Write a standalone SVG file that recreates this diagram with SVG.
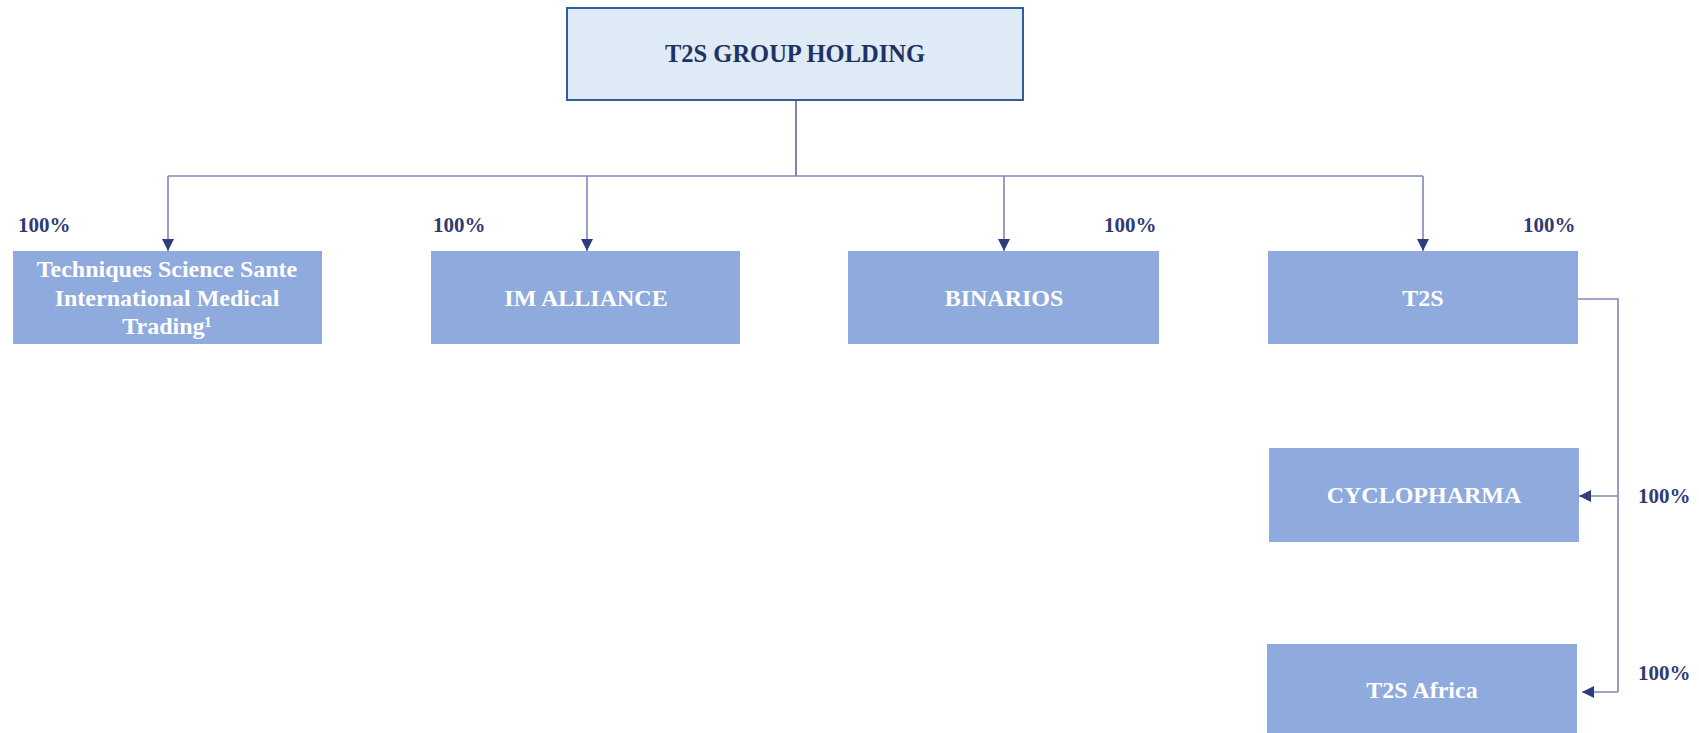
<svg xmlns="http://www.w3.org/2000/svg" width="1699" height="733" viewBox="0 0 1699 733">
<defs>
<style>
.box{fill:#8FAADC;}
.bt{font-family:"Liberation Serif",serif;font-weight:bold;font-size:24px;fill:#FFFFFF;text-anchor:middle;}
.pct{font-family:"Liberation Serif",serif;font-weight:bold;font-size:21px;fill:#2F3A72;}
.ln{fill:none;stroke:#7E88B6;stroke-width:1.6;}
</style>
<marker id="ah" viewBox="0 0 12 12" refX="12" refY="6" markerWidth="12" markerHeight="12" markerUnits="userSpaceOnUse" orient="auto">
<path d="M0,0 L12,6 L0,12 Z" fill="#2F3C7E"/>
</marker>
</defs>
<rect width="1699" height="733" fill="#FFFFFF"/>
<g id="connectors">
<path class="ln" d="M796,100 V176" style="stroke:#5E6699"/>
<path class="ln" d="M168,176 H1423"/>
<path class="ln" d="M168,176 V251" marker-end="url(#ah)"/>
<path class="ln" d="M587,176 V251" marker-end="url(#ah)"/>
<path class="ln" d="M1004,176 V251" marker-end="url(#ah)"/>
<path class="ln" d="M1423,176 V251" marker-end="url(#ah)"/>
<path class="ln" d="M1578,299 H1618 V692"/>
<path class="ln" d="M1618,496 H1579" marker-end="url(#ah)"/>
<path class="ln" d="M1618,692 H1582" marker-end="url(#ah)"/>
</g>
<g id="holding">
<rect x="567" y="8" width="456" height="92" fill="#DEEBF7" stroke="#2F5E99" stroke-width="2"/>
<text x="795" y="62" style="font-family:'Liberation Serif',serif;font-weight:bold;font-size:24.5px;fill:#1F3262;text-anchor:middle">T2S GROUP HOLDING</text>
</g>
<g id="tssimt">
<rect class="box" x="13" y="251" width="309" height="93"/>
<text class="bt" x="167" y="277">Techniques Science Sante</text>
<text class="bt" x="167" y="306">International Medical</text>
<text class="bt" x="167" y="334">Trading¹</text>
<text class="pct" x="18" y="232">100%</text>
</g>
<g id="imalliance">
<rect class="box" x="431" y="251" width="309" height="93"/>
<text class="bt" x="586" y="306">IM ALLIANCE</text>
<text class="pct" x="433" y="232">100%</text>
</g>
<g id="binarios">
<rect class="box" x="848" y="251" width="311" height="93"/>
<text class="bt" x="1004" y="306">BINARIOS</text>
<text class="pct" x="1104" y="232">100%</text>
</g>
<g id="t2s">
<rect class="box" x="1268" y="251" width="310" height="93"/>
<text class="bt" x="1423" y="306">T2S</text>
<text class="pct" x="1523" y="232">100%</text>
</g>
<g id="cyclopharma">
<rect class="box" x="1269" y="448" width="310" height="94"/>
<text class="bt" x="1424" y="503">CYCLOPHARMA</text>
<text class="pct" x="1638" y="503">100%</text>
</g>
<g id="t2safrica">
<rect class="box" x="1267" y="644" width="310" height="89"/>
<text class="bt" x="1422" y="698">T2S Africa</text>
<text class="pct" x="1638" y="680">100%</text>
</g>
</svg>
